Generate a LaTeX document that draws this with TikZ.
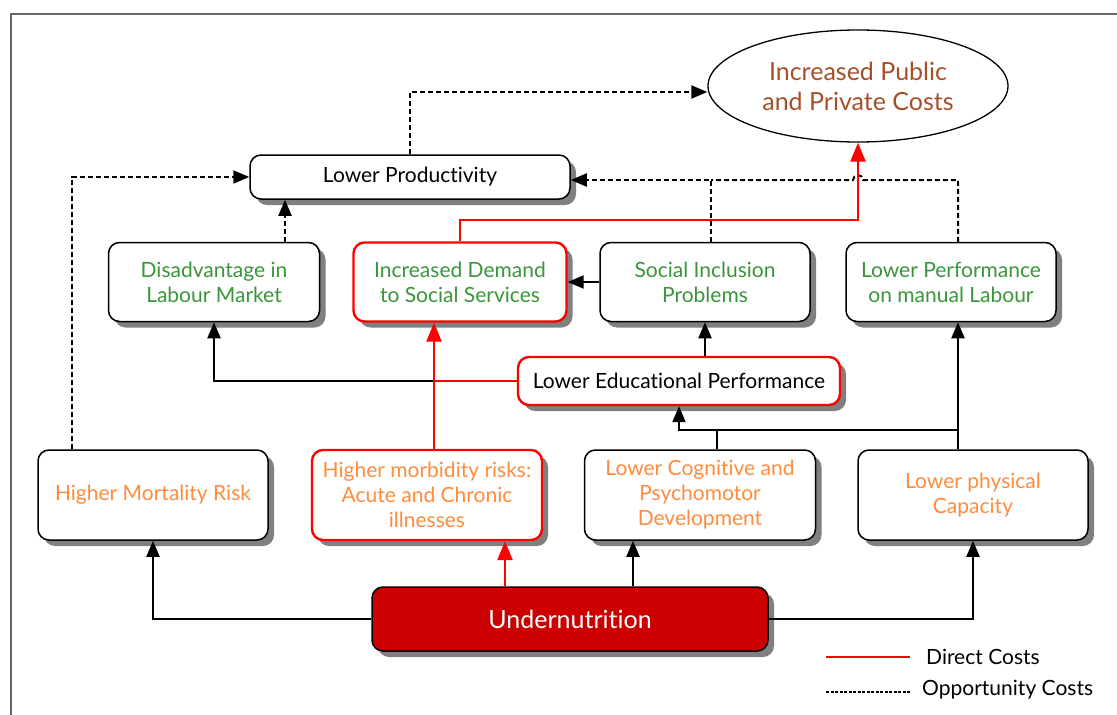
\documentclass[tikz,border=0pt]{standalone}
\usepackage{fontspec}
\setmainfont[Ligatures=NoCommon]{Lato}
\usetikzlibrary{shapes.geometric,shadows,arrows.meta}
\definecolor{tgreen}{RGB}{58,150,58}
\definecolor{torange}{RGB}{255,140,60}
\definecolor{tbrown}{RGB}{165,80,40}
\definecolor{undred}{RGB}{204,0,0}
\tikzset{
  box/.style={draw=black, line width=1.5pt, rounded corners=11pt, fill=white, align=center,
    drop shadow={shadow xshift=6pt, shadow yshift=-6pt, fill=black!50, opacity=1},
    font=\fontsize{21}{25}\selectfont, inner sep=2pt},
  redbox/.style={box, draw=red, line width=2.4pt},
  arr/.style={draw=black, line width=2pt, -{Triangle[length=16pt,width=13pt]}},
  line/.style={draw=black, line width=2pt},
  rline/.style={draw=red, line width=2.6pt},
  rarr/.style={draw=red, line width=2.6pt, -{Triangle[length=19pt,width=15pt]}},
  darr/.style={draw=black, line width=2pt, dash pattern=on 5pt off 3pt, -{Triangle[length=16pt,width=13pt]}},
  dline/.style={draw=black, line width=2pt, dash pattern=on 5pt off 3pt},
}
\begin{document}
\begin{tikzpicture}[x=1pt,y=-1pt]
\useasboundingbox (0,0) rectangle (1117,715);
% frame
\draw[black!60, line width=1.8pt] (11,730) -- (11,14) -- (1130,14);

% nodes
\node[draw=black, line width=1.3pt, ellipse, minimum width=300pt, minimum height=112pt, align=center,
  text=tbrown, font=\fontsize{25}{30}\selectfont] (ell) at (858,86) {Increased Public\\and Private Costs};
\node[box, minimum width=320pt, minimum height=44pt] (lp) at (410,177) {Lower Productivity};
\node[box, minimum width=211pt, minimum height=79pt, text=tgreen] (dis) at (214,282) {Disadvantage in\\Labour Market};
\node[redbox, minimum width=213pt, minimum height=79pt, text=tgreen] (idss) at (460,282) {Increased Demand\\to Social Services};
\node[box, minimum width=210pt, minimum height=79pt, text=tgreen] (sip) at (705,282) {Social Inclusion\\Problems};
\node[box, minimum width=210pt, minimum height=79pt, text=tgreen] (lpml) at (951,282) {Lower Performance\\on manual Labour};
\node[redbox, minimum width=322pt, minimum height=48pt] (lep) at (679,381) {Lower Educational Performance};
\node[box, minimum width=230pt, minimum height=90pt, text=torange] (mort) at (153,495) {Higher Mortality Risk};
\node[redbox, minimum width=230pt, minimum height=90pt, text=torange] (morb) at (427,495) {Higher morbidity risks:\\Acute and Chronic\\illnesses};
\node[box, minimum width=231pt, minimum height=90pt, text=torange] (lcpd) at (700,495) {Lower Cognitive and\\Psychomotor\\Development};
\node[box, minimum width=230pt, minimum height=90pt, text=torange] (lpc) at (973,495) {Lower physical\\Capacity};
\node[box, fill=undred, minimum width=396pt, minimum height=64pt, text=white, font=\fontsize{25}{28}\selectfont] (und) at (570,619) {Undernutrition};

% helper coordinates
\coordinate (cA) at (505,0);
\coordinate (cB) at (633,0);
\coordinate (cC) at (434,0);
\coordinate (cD) at (72,0);
\coordinate (cE) at (285,0);
\coordinate (cF) at (711,0);
\coordinate (cG) at (958,0);
\coordinate (cH) at (717,0);
\coordinate (cI) at (705,0);
\coordinate (cJ) at (858,0);
\coordinate (yA) at (0,430);
\coordinate (yB) at (0,180);
\coordinate (yC) at (0,92);
\coordinate (yD) at (0,220);
\coordinate (hopR) at (863,180);

% connectors from undernutrition
\draw[arr] (und.west) -| (mort.south);
\draw[rarr] (und.north -| cA) -- (morb.south -| cA);
\draw[arr] (und.north -| cB) -- (lcpd.south -| cB);
\draw[arr] (und.east) -| (lpc.south);

% middle
\draw[arr] (lep.west) -| (dis.south);
\draw[rline] (lep.west) -- (lep.west -| cC);
\draw[rarr] (morb.north -| cC) -- (idss.south -| cC);
\draw[arr] (lep.north -| cI) -- (sip.south -| cI);
\draw[line] (lcpd.north -| cH) -- (yA -| cH);
\draw[arr] (yA -| cG) -- (yA -| lep.south) -- (lep.south);
\draw[arr] (lpc.north -| cG) -- (lpml.south -| cG);
\draw[arr] (sip.west) -- (idss.east);

% opportunity costs (dashed)
\draw[darr] (mort.north -| cD) |- (lp.west);
\draw[darr] (dis.north -| cE) -- (lp.south -| cE);
\draw[darr] (lp.north) |- (ell.west |- yC);
\draw[darr] (sip.north -| cF) |- (lp.east |- yB);
\draw[dline] (lpml.north -| cG) |- (hopR) arc[start angle=0, end angle=180, radius=5pt] -- (cF |- yB);

% direct cost to ellipse
\draw[rarr] (idss.north) |- (yD -| cJ) -- (ell.south);

% legend
\coordinate (l1) at (826,657);
\coordinate (l2) at (826,692);
\node[anchor=west, font=\fontsize{21}{22}\selectfont, inner sep=0pt] (lg1) at (926,657) {Direct Costs};
\node[anchor=west, font=\fontsize{21}{22}\selectfont, inner sep=0pt] (lg2) at (922,690) {Opportunity Costs};
\coordinate (l1e) at (910,657);
\coordinate (l2e) at (910,692);
\draw[red, line width=2.5pt] (l1) -- (l1e);
\draw[black, line width=2.6pt, dash pattern=on 3pt off 1.5pt] (l2) -- (l2e);
\end{tikzpicture}
\end{document}
